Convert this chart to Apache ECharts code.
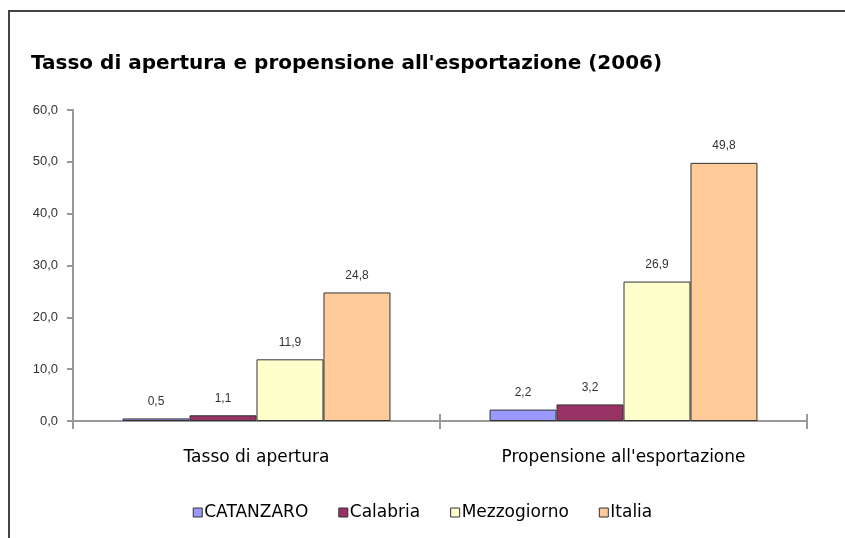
<!DOCTYPE html>
<html>
<head>
<meta charset="utf-8">
<title>Tasso di apertura e propensione all'esportazione (2006)</title>
<script src="https://cdn.jsdelivr.net/npm/echarts@6/dist/echarts.min.js"></script>
<style>
  html, body { margin: 0; padding: 0; background: #fff; }
  #chart { width: 845px; height: 538px; position: relative; }
  /* cornice del grafico (solo sopra e a sinistra come nell'originale) */
  #frame {
    position: absolute; left: 8px; top: 10px; right: 0; bottom: 0;
    border-left: 2px solid #444; border-top: 2px solid #444;
    pointer-events: none;
  }
</style>
</head>
<body>
<div id="chart"></div>

<script>
// categorie
var categories = ['Tasso di apertura', "Propensione all'esportazione"];
// serie
var seriesNames = ['CATANZARO', 'Calabria', 'Mezzogiorno', 'Italia'];
var catanzaro = [0.5, 2.2];
var calabria = [1.1, 3.2];
var mezzogiorno = [11.9, 26.9];
var italia = [24.8, 49.8];
// colori Excel
var colors = ['#9999FF', '#993366', '#FFFFCC', '#FFCC99'];

var chartDom = document.getElementById('chart');
var myChart = echarts.init(chartDom, null, { renderer: 'canvas' });

var fmt = function (v) {
  return Number(v).toFixed(1).replace('.', ',');
};

var labelFont = "'Liberation Sans', Arial, sans-serif";
var comicFont = "'DejaVu Sans', 'Noto Sans', sans-serif";

var datasets = [catanzaro, calabria, mezzogiorno, italia];
var series = [];
for (var i = 0; i < seriesNames.length; i++) {
  series.push({
    name: seriesNames[i],
    type: 'bar',
    data: datasets[i],
    barGap: '0%',
    barCategoryGap: '27%',
    itemStyle: {
      color: colors[i],
      borderColor: '#333',
      borderWidth: 1
    },
    label: {
      show: true,
      position: 'top',
      distance: 11,
      color: '#333',
      fontFamily: labelFont,
      fontSize: 12,
      formatter: function (p) { return fmt(p.value); }
    }
  });
}

var option = {
  animation: false,
  color: colors,
  title: {
    text: "Tasso di apertura e propensione all'esportazione (2006)",
    left: 26,
    top: 49,
    textStyle: {
      fontFamily: comicFont,
      fontWeight: 'bold',
      fontSize: 20,
      color: '#000'
    }
  },
  legend: {
    data: seriesNames,
    bottom: 12,
    left: 'center',
    itemWidth: 9,
    itemHeight: 9,
    itemGap: 30,
    icon: 'rect',
    itemStyle: { borderColor: '#333', borderWidth: 1 },
    textStyle: {
      fontFamily: comicFont,
      fontSize: 17,
      color: '#000',
      padding: [0, 0, 0, -3]
    }
  },
  grid: {
    left: 73,
    right: 38,
    top: 110,
    bottom: 117
  },
  xAxis: [
    {
      type: 'category',
      data: categories,
      axisLine: { show: true, lineStyle: { color: '#999', width: 2 } },
      axisTick: { show: true, length: 8, lineStyle: { color: '#999', width: 2 } },
      axisLabel: {
        fontFamily: comicFont,
        fontSize: 17,
        color: '#000',
        margin: 28
      },
      splitLine: { show: false }
    },
    {
      // secondo asse sovrapposto per i tick che attraversano la linea
      type: 'category',
      data: categories,
      position: 'bottom',
      axisLine: { show: false },
      axisTick: { show: true, inside: true, length: 7, lineStyle: { color: '#999', width: 2 } },
      axisLabel: { show: false },
      splitLine: { show: false }
    }
  ],
  yAxis: {
    type: 'value',
    min: 0,
    max: 60,
    interval: 10,
    axisLine: { show: true, lineStyle: { color: '#999', width: 2 } },
    axisTick: { show: true, length: 6, lineStyle: { color: '#999', width: 2 } },
    splitLine: { show: false },
    axisLabel: {
      fontFamily: labelFont,
      fontSize: 13,
      color: '#333',
      margin: 15,
      formatter: fmt
    }
  },
  series: series
};

myChart.setOption(option, true);

// cornice
var frame = document.createElement('div');
frame.id = 'frame';
chartDom.appendChild(frame);

window.addEventListener('resize', function () {
  myChart.resize();
});
</script>
</body>
</html>
